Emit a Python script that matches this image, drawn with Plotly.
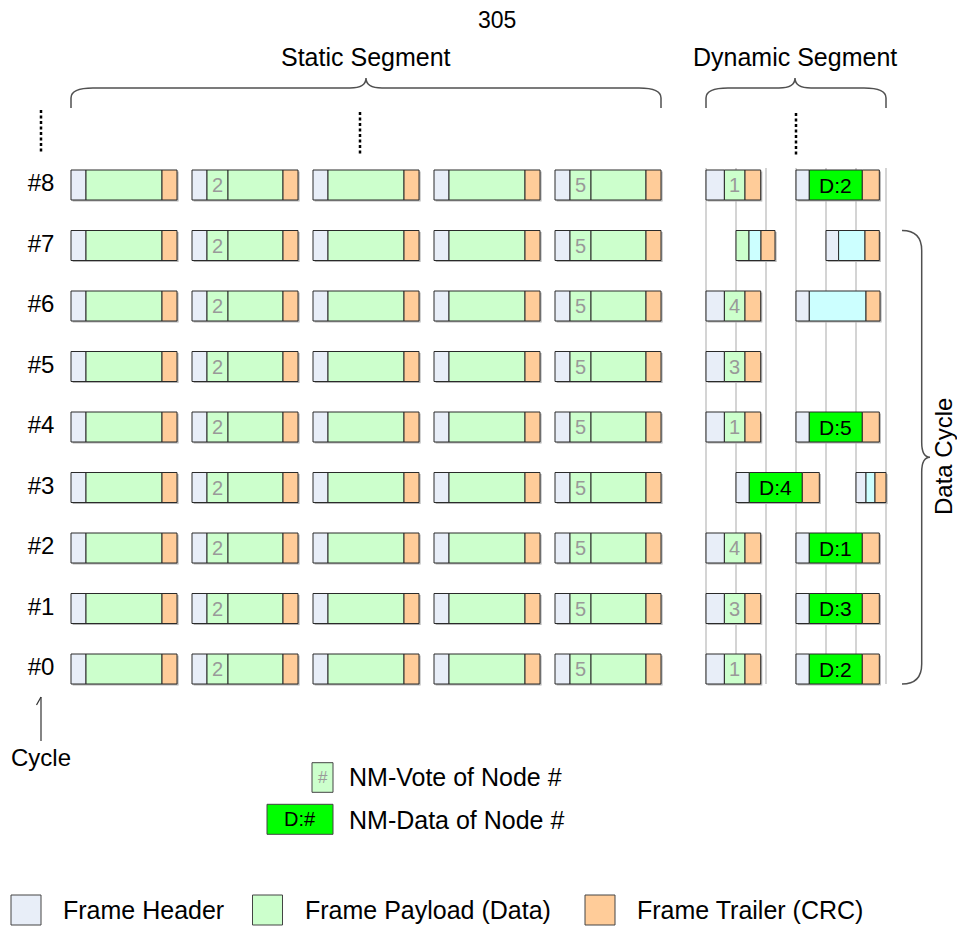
import plotly.graph_objects as go

# ---------------- data ----------------
cycles = [0, 1, 2, 3, 4, 5, 6, 7, 8]
cycle_labels = ["#0", "#1", "#2", "#3", "#4", "#5", "#6", "#7", "#8"]
static_slots = [1, 2, 3, 4, 5]
vote_slots = [2, 5]                       # static slots that carry an NM-vote field
title_text = "305"

# dynamic segment frames (one entry per frame)
dyn_cycle    = [8, 8, 7, 7, 6, 6, 5, 4, 4, 3, 3, 2, 2, 1, 1, 0, 0]
dyn_minislot = [0, 3, 1, 4, 0, 3, 0, 0, 3, 1, 5, 0, 3, 0, 3, 0, 3]
dyn_type     = ["vote", "data", "tail", "cut", "vote", "empty", "vote", "vote", "data",
                "data", "mini", "vote", "data", "vote", "data", "vote", "data"]
dyn_label    = ["1", "D:2", "", "", "4", "", "3", "1", "D:5",
                "D:4", "", "4", "D:1", "3", "D:3", "1", "D:2"]
n_minislot_lines = 7

legend_items = ["Frame Header", "Frame Payload (Data)", "Frame Trailer (CRC)"]

# ---------------- geometry / style ----------------
W, H = 957, 927
ROW0_PX, ROW_PX = 669.0, 60.5          # pixel centre of cycle #0 and row pitch


def py(p):
    """pixel row -> y axis units (cycles)"""
    return (ROW0_PX - p) / ROW_PX


FRAME_HALF = 15.0 / ROW_PX
FONT = "Liberation Sans, Arial, sans-serif"
COL = {"hdr": "#E8EEF8", "pay": "#CCFFCC", "vote": "#CCFFCC", "crc": "#FFCC99",
       "cyan": "#CCFFFF", "nmdata": "#00FF00"}
EDGE = "#2a2a2a"

STATIC_X0, STATIC_STEP = 71.0, 121.0
STATIC_PARTS_VOTE = [("hdr", 15), ("vote", 21), ("pay", 55), ("crc", 15)]
STATIC_PARTS = [("hdr", 15), ("pay", 76), ("crc", 15)]
MS_X0, MS_STEP = 706.0, 30.0
DYN_PARTS = {
    "vote": [("hdr", 18.4), ("vote", 20.6), ("crc", 15.7)],
    "data": [("hdr", 13.3), ("nmdata", 53.0), ("crc", 17.0)],
    "tail": [("pay", 13.0), ("cyan", 12.0), ("crc", 14.0)],
    "cut": [("hdr", 12.6), ("cyan", 26.4), ("crc", 14.3)],
    "empty": [("hdr", 13.3), ("cyan", 56.7), ("crc", 14.0)],
    "mini": [("hdr", 10.0), ("cyan", 9.0), ("crc", 11.0)],
}

shapes = []
annotations = []


def rect(x0, x1, y0, y1, fill, line=EDGE, width=1):
    shapes.append(dict(type="rect", xref="x", yref="y", x0=x0, x1=x1, y0=y0, y1=y1,
                       fillcolor=fill, line=dict(color=line, width=width)))


def text(x, y, s, size, color="#000", xanchor="center", angle=0):
    annotations.append(dict(x=x, y=y, xref="x", yref="y", text=s, showarrow=False,
                            xanchor=xanchor, yanchor="middle", textangle=angle,
                            font=dict(family=FONT, size=size, color=color)))


def frame(x0, c, parts, label):
    total = sum(w for _, w in parts)
    sh = 1.6 / ROW_PX
    shapes.append(dict(type="rect", xref="x", yref="y", x0=x0 + 1.6, x1=x0 + total + 1.6,
                       y0=c - FRAME_HALF - sh, y1=c + FRAME_HALF - sh,
                       fillcolor="#b4b4b4", line=dict(width=0)))
    x = x0
    for kind, w in parts:
        rect(x, x + w, c - FRAME_HALF, c + FRAME_HALF, COL[kind])
        if kind == "vote" and label:
            text(x + w / 2, c, label, 20, "#999999")
        if kind == "nmdata" and label:
            text(x + w / 2, c, label, 21, "#000000")
        x += w


# minislot grid lines (behind frames)
for k in range(n_minislot_lines):
    xk = MS_X0 + MS_STEP * k
    shapes.append(dict(type="line", xref="x", yref="y", x0=xk, x1=xk,
                       y0=cycles[0] - FRAME_HALF, y1=py(168),
                       line=dict(color="#d0d0d0", width=1.8)))

# static segment
for c in cycles:
    for s in static_slots:
        x0 = STATIC_X0 + (s - 1) * STATIC_STEP
        if s in vote_slots:
            frame(x0, c, STATIC_PARTS_VOTE, str(s))
        else:
            frame(x0, c, STATIC_PARTS, "")

# dynamic segment
for c, ms, t, lab in zip(dyn_cycle, dyn_minislot, dyn_type, dyn_label):
    frame(MS_X0 + MS_STEP * ms, c, DYN_PARTS[t], lab)

# dotted "more cycles" marks
for xd, p0, p1 in [(41, 110, 153), (360, 112, 155), (MS_X0 + 3 * MS_STEP, 113, 155)]:
    shapes.append(dict(type="line", xref="x", yref="y", x0=xd, x1=xd, y0=py(p0), y1=py(p1),
                       line=dict(color="#000", width=2.5, dash="3px,2.5px")))


def path(points_cmds):
    out = []
    for cmd, pts in points_cmds:
        out.append(cmd + " " + " ".join(f"{x:.2f},{py(y):.4f}" for x, y in pts))
    return " ".join(out)


def hbrace(x0, x1, xm, yb=108, yt=88, ytip=78):
    return path([("M", [(x0, yb)]), ("L", [(x0, yt + 10)]), ("Q", [(x0, yt), (x0 + 22, yt)]),
                 ("L", [(xm - 16, yt)]), ("Q", [(xm, yt), (xm, ytip)]),
                 ("Q", [(xm, yt), (xm + 16, yt)]), ("L", [(x1 - 22, yt)]),
                 ("Q", [(x1, yt), (x1, yt + 10)]), ("L", [(x1, yb)])])


static_left = STATIC_X0
static_right = STATIC_X0 + (len(static_slots) - 1) * STATIC_STEP + 106
dyn_left = MS_X0
dyn_right = MS_X0 + MS_STEP * (n_minislot_lines - 1)
brace_style = dict(color="#505050", width=1.5)
shapes.append(dict(type="path", xref="x", yref="y", line=brace_style,
                   path=hbrace(static_left, static_right, 366)))
shapes.append(dict(type="path", xref="x", yref="y", line=brace_style,
                   path=hbrace(dyn_left, dyn_right, 795)))

# vertical "Data Cycle" brace spanning cycles 0..7
ytop_px = ROW0_PX - 7 * ROW_PX - 15
ybot_px = ROW0_PX + 15
ymid_px = (ytop_px + ybot_px) / 2
vb = path([("M", [(902, ytop_px)]), ("Q", [(921.7, ytop_px), (921.7, ytop_px + 20)]),
           ("L", [(921.7, ymid_px - 15)]), ("Q", [(921.7, ymid_px), (930, ymid_px)]),
           ("Q", [(921.7, ymid_px), (921.7, ymid_px + 15)]),
           ("L", [(921.7, ybot_px - 20)]), ("Q", [(921.7, ybot_px), (902, ybot_px)])])
shapes.append(dict(type="path", xref="x", yref="y", line=brace_style, path=vb))

# cycle arrow
shapes.append(dict(type="line", xref="x", yref="y", x0=41, x1=41, y0=py(741), y1=py(697),
                   line=dict(color="#333", width=1.2)))
shapes.append(dict(type="path", xref="x", yref="y", line=dict(color="#333", width=1.2),
                   path=path([("M", [(36.5, 705)]), ("L", [(41, 697), (45.5, 705)])])))

# headings
text(497, py(20), title_text, 23)
text(366, py(57), "Static Segment", 25)
text(795, py(57), "Dynamic Segment", 25)
text(943, py(457), "Data Cycle", 24, angle=-90)
text(41, py(757), "Cycle", 24)

# NM legend
rect(312, 333, py(792.3), py(762.7), COL["vote"], line="#444")
text(322.5, py(777.5), "#", 17, "#999999")
text(347, py(777), "NM-Vote of Node #", 25, xanchor="left")
rect(267, 333, py(834.3), py(804.3), COL["nmdata"], line="#444")
text(300, py(819.3), "D:#", 20)
text(347, py(820), "NM-Data of Node #", 25, xanchor="left")

# bottom legend
for (bx, tx), name, kind in zip([(11, 61), (252.5, 303), (585, 635)], legend_items,
                                ["hdr", "pay", "crc"]):
    rect(bx, bx + 30, py(925), py(895), COL[kind], line="#444")
    text(tx, py(910), name, 25, xanchor="left")

fig = go.Figure()
fig.add_trace(go.Scatter(x=[41] * len(cycles), y=cycles, mode="text", text=cycle_labels,
                         textfont=dict(family=FONT, size=24, color="#000"),
                         hoverinfo="skip", showlegend=False))
fig.update_layout(
    width=W, height=H, margin=dict(l=0, r=0, t=0, b=0),
    paper_bgcolor="white", plot_bgcolor="white", showlegend=False, hovermode=False,
    xaxis=dict(range=[0, W], visible=False, fixedrange=True),
    yaxis=dict(range=[py(H), py(0)], visible=False, fixedrange=True),
    shapes=shapes, annotations=annotations,
)
fig.write_html("out.html", config={"displayModeBar": False},
               post_script="document.body.style.margin='0';document.body.style.overflow='hidden';")
